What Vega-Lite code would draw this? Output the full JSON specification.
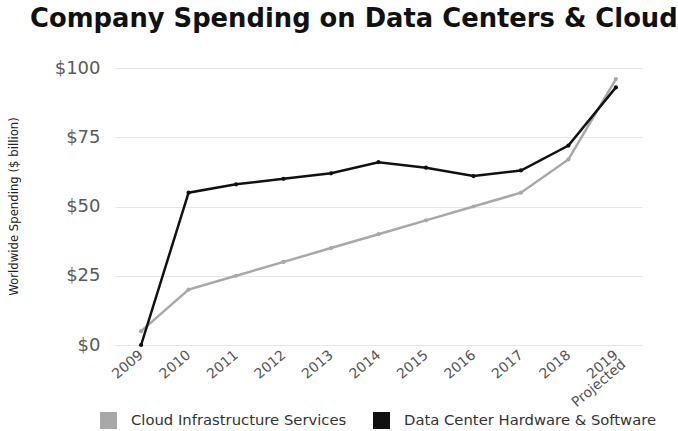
{
  "$schema": "https://vega.github.io/schema/vega-lite/v6.json",
  "width": 527,
  "height": 277,
  "autosize": "none",
  "padding": {"left": 115, "top": 68, "right": 36, "bottom": 86},
  "background": "white",
  "title": {
    "text": "Company Spending on Data Centers & Cloud",
    "anchor": "start",
    "frame": "group",
    "dx": -85,
    "offset": 26,
    "font": "DejaVu Sans",
    "fontSize": 25.8,
    "fontWeight": "bold",
    "color": "#111111"
  },
  "config": {
    "view": {"stroke": null},
    "font": "Open Sans"
  },
  "data": {
    "values": [
      {"year": "2009", "series": "Cloud Infrastructure Services", "value": 5},
      {"year": "2010", "series": "Cloud Infrastructure Services", "value": 20},
      {"year": "2011", "series": "Cloud Infrastructure Services", "value": 25},
      {"year": "2012", "series": "Cloud Infrastructure Services", "value": 30},
      {"year": "2013", "series": "Cloud Infrastructure Services", "value": 35},
      {"year": "2014", "series": "Cloud Infrastructure Services", "value": 40},
      {"year": "2015", "series": "Cloud Infrastructure Services", "value": 45},
      {"year": "2016", "series": "Cloud Infrastructure Services", "value": 50},
      {"year": "2017", "series": "Cloud Infrastructure Services", "value": 55},
      {"year": "2018", "series": "Cloud Infrastructure Services", "value": 67},
      {"year": "2019", "series": "Cloud Infrastructure Services", "value": 96},
      {"year": "2009", "series": "Data Center Hardware & Software", "value": 0},
      {"year": "2010", "series": "Data Center Hardware & Software", "value": 55},
      {"year": "2011", "series": "Data Center Hardware & Software", "value": 58},
      {"year": "2012", "series": "Data Center Hardware & Software", "value": 60},
      {"year": "2013", "series": "Data Center Hardware & Software", "value": 62},
      {"year": "2014", "series": "Data Center Hardware & Software", "value": 66},
      {"year": "2015", "series": "Data Center Hardware & Software", "value": 64},
      {"year": "2016", "series": "Data Center Hardware & Software", "value": 61},
      {"year": "2017", "series": "Data Center Hardware & Software", "value": 63},
      {"year": "2018", "series": "Data Center Hardware & Software", "value": 72},
      {"year": "2019", "series": "Data Center Hardware & Software", "value": 93}
    ]
  },
  "encoding": {
    "x": {
      "field": "year",
      "type": "ordinal",
      "scale": {"type": "point", "padding": 0.55},
      "axis": {
        "title": null,
        "domain": false,
        "ticks": false,
        "labelAngle": -40,
        "labelAlign": "right",
        "labelBaseline": "middle",
        "labelFont": "DejaVu Sans",
        "labelFontSize": 14,
        "labelColor": "#555555",
        "labelPadding": 8,
        "labelExpr": "datum.value == '2019' ? ['2019', 'Projected'] : datum.value",
        "labelLineHeight": 12
      }
    },
    "y": {
      "field": "value",
      "type": "quantitative",
      "scale": {"domain": [0, 100]},
      "axis": {
        "values": [0, 25, 50, 75, 100],
        "labelExpr": "'$' + datum.value",
        "labelFont": "DejaVu Sans",
        "labelFontSize": 18,
        "labelColor": "#5a5a5a",
        "labelPadding": 15,
        "domain": false,
        "ticks": false,
        "gridColor": "#e6e6e6",
        "title": "Worldwide Spending ($ billion)",
        "titleFont": "DejaVu Sans Condensed",
        "titleFontSize": 13,
        "titleFontWeight": "normal",
        "titleColor": "#222222",
        "titleX": -95,
        "titleY": 138
      }
    },
    "color": {
      "field": "series",
      "type": "nominal",
      "sort": ["Cloud Infrastructure Services", "Data Center Hardware & Software"],
      "scale": {
        "domain": ["Cloud Infrastructure Services", "Data Center Hardware & Software"],
        "range": ["#a8a8a8", "#111111"]
      },
      "legend": {
        "title": null,
        "orient": "none",
        "direction": "horizontal",
        "legendX": -15,
        "legendY": 344,
        "symbolType": "square",
        "symbolSize": 289,
        "symbolStrokeWidth": 0,
        "labelFont": "DejaVu Sans",
        "labelFontSize": 14.8,
        "labelLimit": 0,
        "labelColor": "#333333",
        "labelOffset": 14,
        "columnPadding": 26
      }
    }
  },
  "layer": [
    {
      "mark": {"type": "line", "strokeWidth": 2.5}
    },
    {
      "mark": {"type": "point", "filled": true, "size": 18, "opacity": 1}
    }
  ]
}
